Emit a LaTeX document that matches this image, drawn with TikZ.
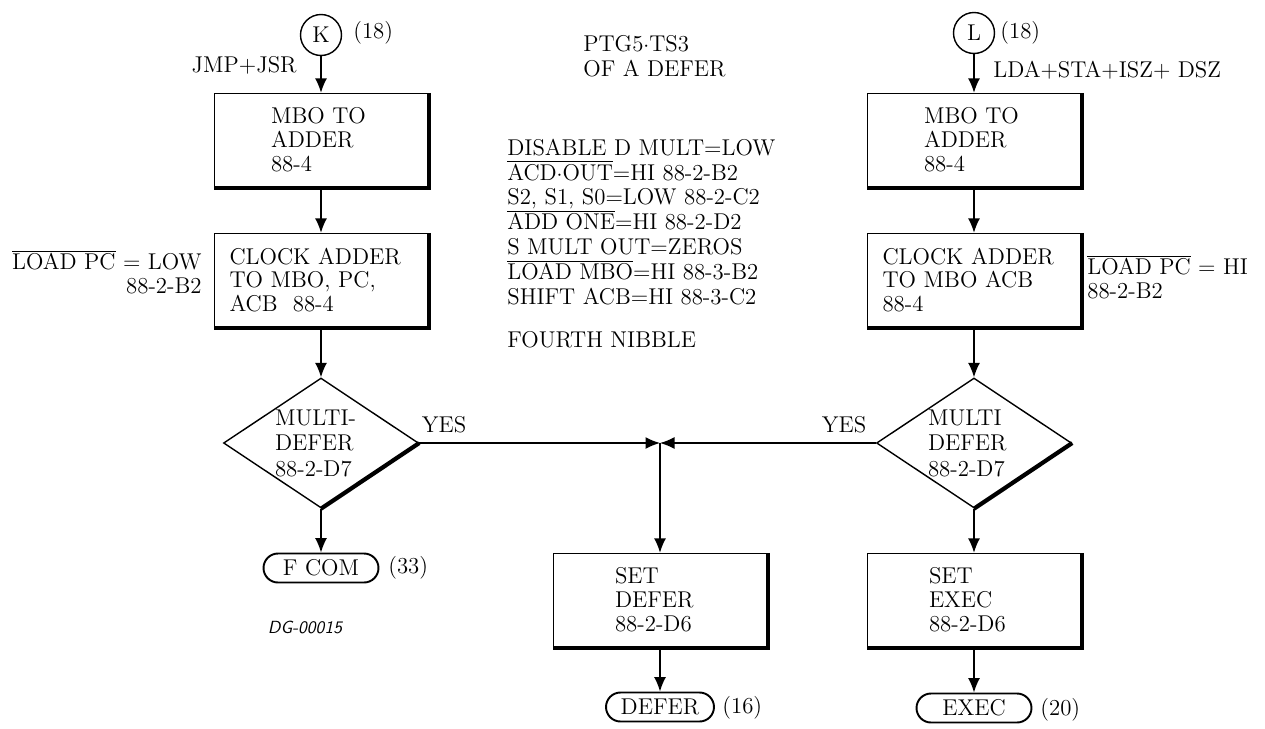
\documentclass[tikz,border=0pt]{standalone}
\usetikzlibrary{shapes.geometric,arrows.meta}
\begin{document}
\begin{tikzpicture}
  [
    x                 = 0.02cm,
    y                 = -0.02cm,
    every node/.style = {font=\fontsize{13}{13.6}\selectfont, inner sep=0pt},
    flow/.style       = {draw, line width=0.8pt, -{Latex[length=2.9mm, width=2.4mm]}},
    stepbox/.style    = {draw, line width=0.8pt, minimum width=4.26cm,
                         minimum height=1.86cm, align=left},
    decision/.style   = {draw, diamond, aspect=1.5, line width=0.8pt,
                         minimum width=3.9cm, minimum height=2.6cm,
                         text width=1.84cm, align=left,
                         font=\fontsize{13}{14.5}\selectfont},
    terminal/.style   = {draw, rectangle, rounded corners=0.29cm, line width=1.1pt,
                         minimum width=2.3cm, minimum height=0.58cm},
    connector/.style  = {draw, circle, line width=0.8pt, minimum size=0.82cm,
                         font=\fontsize{13}{14}\selectfont},
    heavy/.style      = {line width=1.8pt, line join=miter}
  ]
  \useasboundingbox (0,0) rectangle (1265,728);

  % left column: JMP, JSR
  \node[connector] (k) at (321,35) {K};
  \node[anchor=west] (kref) at (353,33) {(18)};
  \node[anchor=east] (jmp) at (297,65) {JMP+JSR};
  \node[stepbox, text width=2cm] (mboL) at (321,140) {MBO TO\\ADDER\\88-4};
  \node[stepbox, text width=3.66cm] (clockL) at (321,280)
    {CLOCK ADDER\\TO MBO, PC,\\ACB~~88-4};
  \node[anchor=east, align=right] (pcL) at (202,272)
    {$\overline{\mbox{LOAD PC}}$ = LOW\\88-2-B2};
  \node[decision] (multiL) at (321,443) {MULTI-\\DEFER\\88-2-D7};
  \node (yesL) at (444,425) {YES};
  \node[terminal] (fcom) at (321,568) {F COM};
  \node[anchor=west] (fcomref) at (388,568) {(33)};
  \node[font=\fontsize{10}{12}\sffamily\itshape] (dg) at (305,627) {DG-00015};

  % middle: signals of the defer time state
  \node[anchor=west, align=left, font=\fontsize{13}{14.2}\selectfont] (title) at (583,56)
    {PTG5$\cdot$TS3\\OF A DEFER};
  \node[anchor=west, align=left, font=\fontsize{13}{14.2}\selectfont] (signals) at (507,222)
    {DISABLE D MULT=LOW\\
     $\overline{\mbox{ACD$\cdot$OUT}}$=HI 88-2-B2\\
     S2, S1, S0=LOW 88-2-C2\\
     $\overline{\mbox{ADD ONE}}$=HI 88-2-D2\\
     S MULT OUT=ZEROS\\
     $\overline{\mbox{LOAD MBO}}$=HI 88-3-B2\\
     SHIFT ACB=HI 88-3-C2};
  \node[anchor=west] (nibble) at (507,340) {FOURTH NIBBLE};
  \coordinate (join) at (660,443);
  \node[stepbox, text width=1.8cm] (setdefer) at (660,600) {SET\\DEFER\\88-2-D6};
  \node[terminal, minimum width=2.16cm] (defer) at (660,707) {DEFER};
  \node[anchor=west] (deferref) at (722,708) {(16)};

  % right column: LDA, STA, ISZ, DSZ
  \node[connector] (l) at (974,33) {L};
  \node[anchor=west] (lref) at (1000,33) {(18)};
  \node[anchor=west] (lda) at (993,70) {LDA+STA+ISZ+ DSZ};
  \node[stepbox, text width=2cm] (mboR) at (974,140) {MBO TO\\ADDER\\88-4};
  \node[stepbox, text width=3.66cm] (clockR) at (974,280)
    {CLOCK ADDER\\TO MBO ACB\\88-4};
  \node[anchor=west, align=left] (pcR) at (1087,277)
    {$\overline{\mbox{LOAD PC}}$ = HI\\88-2-B2};
  \node[decision] (multiR) at (974,443) {MULTI\\DEFER\\88-2-D7};
  \node (yesR) at (844,425) {YES};
  \node[stepbox, text width=1.8cm] (setexec) at (974,600) {SET\\EXEC\\88-2-D6};
  \node[terminal] (exec) at (974,708) {EXEC};
  \node[anchor=west] (execref) at (1040,710) {(20)};

  % connectors
  \draw[flow] (k) -- (mboL);
  \draw[flow] (mboL) -- (clockL);
  \draw[flow] (clockL) -- (multiL);
  \draw[flow] (multiL) -- (fcom);
  \draw[flow] (l) -- (mboR);
  \draw[flow] (mboR) -- (clockR);
  \draw[flow] (clockR) -- (multiR);
  \draw[flow] (multiR) -- (setexec);
  \draw[flow] (setexec) -- (exec);
  \draw[flow] (multiL.east) -- (join);
  \draw[flow] (multiR.west) -- (join);
  \draw[flow] (join) -- (setdefer);
  \draw[flow] (setdefer) -- (defer);

  % heavy shadow edges
  \foreach \b in {mboL, clockL, mboR, clockR, setdefer, setexec}
    \draw[heavy] ([xshift=0.5pt]\b.north east) -- ([xshift=0.5pt, yshift=-0.5pt]\b.south east)
      -- ([yshift=-0.5pt]\b.south west);
  \foreach \d in {multiL, multiR}
    \draw[line width=2.4pt] (\d.east) -- (\d.south);
\end{tikzpicture}
\end{document}
